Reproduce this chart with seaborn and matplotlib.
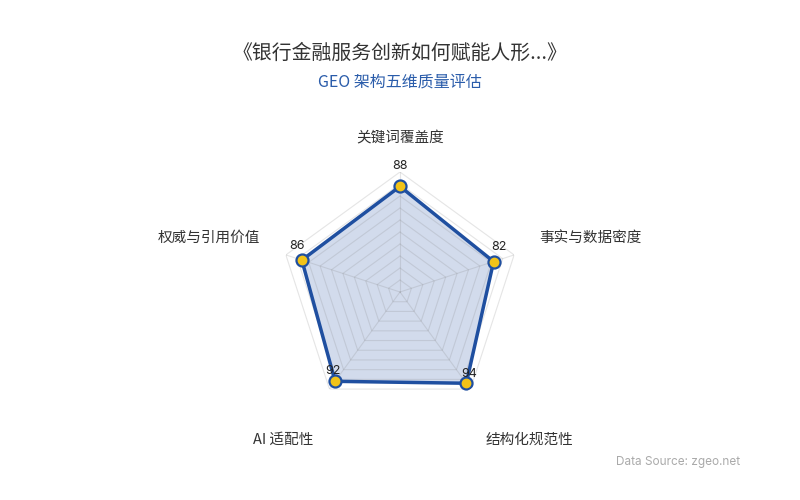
import numpy as np
import matplotlib
matplotlib.use("Agg")
import matplotlib.pyplot as plt
import seaborn as sns

# ---- data ----
categories = ["关键词覆盖度", "事实与数据密度", "结构化规范性", "AI 适配性", "权威与引用价值"]
scores = [88, 82, 94, 92, 86]
r_max = 100
ring_levels = list(range(10, 101, 10))

title = "《银行金融服务创新如何赋能人形...》"
subtitle = "GEO 架构五维质量评估"
source = "Data Source: zgeo.net"

# ---- style ----
blue = "#1f4fa0"
yellow = "#f2c318"
sns.set_theme(style="white")
plt.rcParams['font.family'] = ['Noto Sans CJK SC', 'DejaVu Sans']

fig = plt.figure(figsize=(8, 5), dpi=100)
ax = fig.add_axes([0.35, 0.176, 0.3, 0.48], projection='polar')
ax.set_theta_offset(np.pi / 2)
ax.set_theta_direction(-1)

n = len(categories)
theta = np.linspace(0, 2 * np.pi, n, endpoint=False)
theta_c = np.append(theta, theta[0])
scores_c = np.append(scores, scores[0])

# pentagon grid
for lv in ring_levels:
    ax.plot(theta_c, [lv] * (n + 1), color="#7f7f7f", alpha=0.2, lw=0.8, zorder=3)
for t in theta:
    ax.plot([t, t], [0, r_max], color="#7f7f7f", alpha=0.2, lw=0.8, zorder=3)

# data
ax.fill(theta_c, scores_c, color=blue, alpha=0.2, zorder=2, lw=0)
sns.lineplot(x=theta_c, y=scores_c, sort=False, estimator=None, color=blue,
             lw=2.5, ax=ax, zorder=4)
sns.scatterplot(x=theta, y=scores, s=75, color=yellow, edgecolor=blue,
                linewidth=1.6, zorder=5, ax=ax)

ax.set_ylim(0, r_max)
ax.set_xticks([])
ax.set_yticks([])
ax.set(xlabel="", ylabel="")
ax.grid(False)
ax.spines['polar'].set_visible(False)
ax.set_facecolor("none")

# value labels
value_offsets = [(0, 20), (5, 15), (3, 9), (-2, 10), (-5, 14)]
for t, v, off in zip(theta, scores, value_offsets):
    ax.annotate(str(v), xy=(t, v), xytext=off, textcoords="offset pixels",
                ha="center", va="center", fontsize=9, color="#222222",
                family=["Inter", "DejaVu Sans"], zorder=6)

# category labels
cat_offsets = [(0, 34), (25, 17), (15, -51), (-16, -51), (-26, 17)]
cat_ha = ["center", "left", "left", "right", "right"]
for t, c, off, ha in zip(theta, categories, cat_offsets, cat_ha):
    ax.annotate(c, xy=(t, r_max), xytext=off, textcoords="offset pixels",
                ha=ha, va="center", fontsize=10.5, color="#333333",
                annotation_clip=False)

fig.text(0.5, 1 - 53 / 500, title, ha="center", va="center", fontsize=14.3,
         color="#333333")
fig.text(0.5, 1 - 82 / 500, subtitle, ha="center", va="center", fontsize=11.5,
         color="#2a5caa")
fig.text(740 / 800, 1 - 462 / 500, source, ha="right", va="center", fontsize=8.5,
         color="#aaaaaa", family=["Inter", "DejaVu Sans"])

fig.savefig("out.png", dpi=100, facecolor="white")
